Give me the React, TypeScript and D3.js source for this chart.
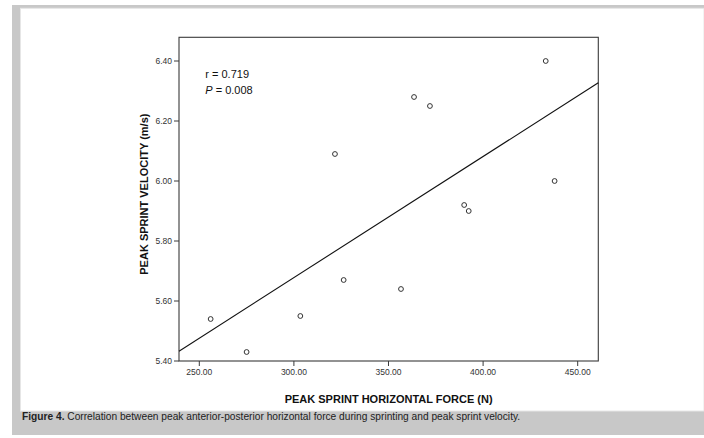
import React from "react";
import * as d3 from "d3";

// Peak sprint horizontal force (N) and peak sprint velocity (m/s) per athlete
const force = [256.0, 275.0, 303.4, 326.3, 321.7, 356.6, 363.5, 371.9, 390.0, 392.4, 433.1, 437.8];
const velocity = [5.54, 5.43, 5.55, 5.67, 6.09, 5.64, 6.28, 6.25, 5.92, 5.9, 6.4, 6.0];

const xTicks = [250, 300, 350, 400, 450];
const yTicks = [5.4, 5.6, 5.8, 6.0, 6.2, 6.4];
const xDomain = [239.27, 460.89];
const yDomain = [5.4, 6.479];

const statsLines = ["r = 0.719", "P = 0.008"];
const xTitle = "PEAK SPRINT HORIZONTAL FORCE (N)";
const yTitle = "PEAK SPRINT VELOCITY (m/s)";
const captionLabel = "Figure 4.";
const captionText = " Correlation between peak anterior-posterior horizontal force during sprinting and peak sprint velocity.";

const W = 704;
const H = 438;
const plot = { left: 179, right: 598.3, top: 37.3, bottom: 361 };

export default function App() {
  const x = d3.scaleLinear().domain(xDomain).range([plot.left, plot.right]);
  const y = d3.scaleLinear().domain(yDomain).range([plot.bottom, plot.top]);
  const fmt = d3.format(".2f");

  // least-squares fit line
  const mx = d3.mean(force) as number;
  const my = d3.mean(velocity) as number;
  let sxy = 0;
  let sxx = 0;
  force.forEach((f, i) => {
    sxy += (f - mx) * (velocity[i] - my);
    sxx += (f - mx) * (f - mx);
  });
  const slope = sxy / sxx;
  const intercept = my - slope * mx;
  const fitLine = d3
    .line<number>()
    .x((d) => x(d))
    .y((d) => y(intercept + slope * d));

  const font = "'Liberation Sans', Arial, sans-serif";
  const axisColor = "#3a3a3a";

  return (
    <svg
      width={W}
      height={H}
      style={{ position: "absolute", left: 0, top: 0 }}
      fontFamily={font}
    >
      <rect x={0} y={0} width={W} height={H} fill="#ffffff" />
      <rect x={12} y={5} width={W - 12} height={430} fill="#c8c8c8" />
      <rect x={20.5} y={8.3} width={W - 20.5} height={402.7} fill="#ffffff" stroke="#e6e6e6" strokeWidth={1} />

      {/* plot frame */}
      <rect
        x={plot.left}
        y={plot.top}
        width={plot.right - plot.left}
        height={plot.bottom - plot.top}
        fill="none"
        stroke={axisColor}
        strokeWidth={1.1}
      />

      {/* y axis ticks */}
      {yTicks.map((t) => (
        <g key={"y" + t}>
          <line x1={plot.left - 5} x2={plot.left} y1={y(t)} y2={y(t)} stroke={axisColor} strokeWidth={1} />
          <text x={plot.left - 7} y={y(t)} dy="0.35em" textAnchor="end" fontSize={8.5} fill="#333">
            {fmt(t)}
          </text>
        </g>
      ))}

      {/* x axis ticks */}
      {xTicks.map((t) => (
        <g key={"x" + t}>
          <line x1={x(t)} x2={x(t)} y1={plot.bottom} y2={plot.bottom + 5} stroke={axisColor} strokeWidth={1} />
          <text x={x(t)} y={plot.bottom + 10.7} dy="0.35em" textAnchor="middle" fontSize={8.5} fill="#333">
            {fmt(t)}
          </text>
        </g>
      ))}

      {/* axis titles */}
      <text
        x={(plot.left + plot.right) / 2}
        y={399}
        dy="0.35em"
        textAnchor="middle"
        fontSize={11}
        fontWeight="bold"
        fill="#111"
      >
        {xTitle}
      </text>
      <text
        transform={`translate(144.5, ${(plot.top + plot.bottom) / 2 - 5}) rotate(-90)`}
        dy="0.35em"
        textAnchor="middle"
        fontSize={11}
        fontWeight="bold"
        fill="#111"
      >
        {yTitle}
      </text>

      {/* fit line */}
      <path d={fitLine(xDomain) as string} fill="none" stroke="#111" strokeWidth={1.1} />

      {/* observations */}
      {force.map((f, i) => (
        <circle key={i} cx={x(f)} cy={y(velocity[i])} r={2.4} fill="#fff" stroke="#333" strokeWidth={1} />
      ))}

      {/* correlation statistics */}
      <text x={205.3} y={78.3} fontSize={11} fill="#111">
        {statsLines[0]}
      </text>
      <text x={205.3} y={94.3} fontSize={11} fill="#111">
        <tspan fontStyle="italic">{statsLines[1].slice(0, 1)}</tspan>
        {statsLines[1].slice(1)}
      </text>

      {/* caption */}
      <text x={22} y={420} fontSize={10.2} fill="#222">
        <tspan fontWeight="bold">{captionLabel}</tspan>
        {captionText}
      </text>
    </svg>
  );
}
